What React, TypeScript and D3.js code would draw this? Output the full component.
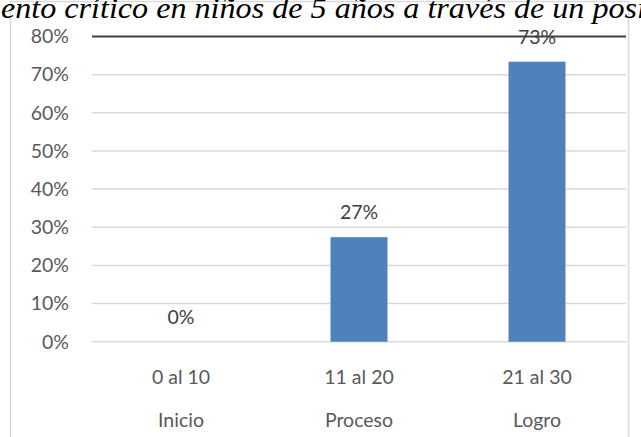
import React from "react";
import * as d3 from "d3";

const categories = ["0 al 10", "11 al 20", "21 al 30"];
const levels = ["Inicio", "Proceso", "Logro"];
const values = [0, 27.4, 73.4];
const labels = ["0%", "27%", "73%"];
const yTicks = [0, 10, 20, 30, 40, 50, 60, 70, 80];
const titleText = "ento crítico en niños de 5 años a través de un posi";

const W = 641;
const H = 437;
const FONT = "Lato, 'Open Sans', sans-serif";

export default function App() {
  const x = d3
    .scaleBand<string>()
    .domain(categories)
    .range([92, 626])
    .paddingInner(0.68)
    .paddingOuter(0.34);
  const y = d3.scaleLinear().domain([0, 80]).range([341.7, 36.5]);

  return (
    <svg
      width={W}
      height={H}
      style={{ position: "fixed", left: 0, top: 0, background: "#fff" }}
    >
      <rect x={10.5} y={1.5} width={618} height={460} fill="#fff" stroke="#d9d9d9" strokeWidth={1.5} />
      <text
        x={1}
        y={18}
        fontFamily="'Liberation Serif', 'Times New Roman', serif"
        fontStyle="italic"
        fontSize={30}
        fill="#000"
        textLength={645}
        lengthAdjust="spacingAndGlyphs"
      >
        {titleText}
      </text>
      {yTicks.map((t) => (
        <g key={t}>
          <line
            x1={92}
            x2={626}
            y1={y(t)}
            y2={y(t)}
            stroke={t === 80 ? "#404040" : "#d9d9d9"}
            strokeWidth={t === 80 ? 2 : 1.5}
          />
          <text
            x={69}
            y={y(t)}
            dy="0.35em"
            textAnchor="end"
            fontFamily={FONT}
            fontSize={19.5}
            fill="#595959"
          >
            {t}%
          </text>
        </g>
      ))}
      {categories.map((c, i) => (
        <g key={c}>
          <rect
            x={x(c)}
            y={y(values[i])}
            width={x.bandwidth()}
            height={y(0) - y(values[i])}
            fill="#4f81bd"
          />
          <text
            x={(x(c) as number) + x.bandwidth() / 2}
            y={y(values[i]) - 25}
            dy="0.35em"
            textAnchor="middle"
            fontFamily={FONT}
            fontSize={19.5}
            fill="#404040"
          >
            {labels[i]}
          </text>
          <text
            x={(x(c) as number) + x.bandwidth() / 2}
            y={377}
            dy="0.35em"
            textAnchor="middle"
            fontFamily={FONT}
            fontSize={19.5}
            fill="#595959"
          >
            {c}
          </text>
          <text
            x={(x(c) as number) + x.bandwidth() / 2}
            y={420}
            dy="0.35em"
            textAnchor="middle"
            fontFamily={FONT}
            fontSize={19.5}
            fill="#595959"
          >
            {levels[i]}
          </text>
        </g>
      ))}
    </svg>
  );
}
